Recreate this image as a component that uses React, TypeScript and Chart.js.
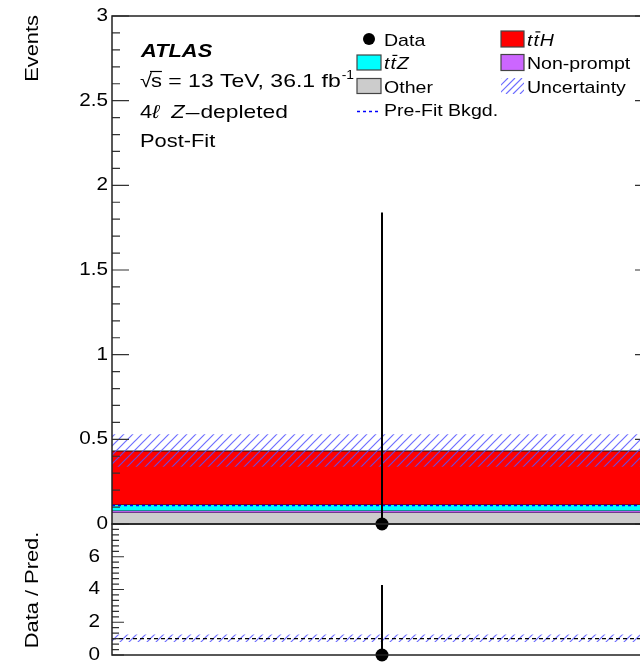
import React, { useEffect, useRef } from 'react';
import { Chart, registerables } from 'chart.js';

Chart.register(...registerables);

// ---------------- data ----------------
const binEdges = [0, 1];
const otherYields = [0.068];
const nonPromptYields = [0.011];
const ttZYields = [0.036];
const ttHYields = [0.316];
const uncDown = [0.338];
const uncUp = [0.53];
const preFitBkgd = [0.109];
const dataCenters = [0.5];
const dataValues = [0];
const dataErrHigh = [1.84];
const ratioValues = [0];
const ratioErrHigh = [4.27];
const ratioUncDown = [0.8];
const ratioUncUp = [1.25];
const ratioRef = [1];
const eventMajorTicks = [0, 0.5, 1, 1.5, 2, 2.5, 3];
const eventMinorStep = 0.1;
const ratioMajorTicks = [0, 2, 4, 6, 8];
const ratioLabelTicks = [0, 2, 4, 6];
const ratioMinorStep = 1 / 3;

// ---------------- helpers ----------------
const FONT = '"Liberation Sans", Arial, Helvetica, sans-serif';
const SX = 1.15;

type Pt = { x: number; y: number };

function stepPoints(values: number[]): Pt[] {
  const pts: Pt[] = [];
  values.forEach((v, i) => {
    pts.push({ x: binEdges[i], y: v });
    pts.push({ x: binEdges[i + 1], y: v });
  });
  return pts;
}

function addArrays(...arrs: number[][]): number[] {
  return arrs[0].map((_, i) => arrs.reduce((s, a) => s + a[i], 0));
}

function errorBarPoints(xs: number[], ys: number[], hi: number[]): Pt[] {
  const pts: Pt[] = [];
  xs.forEach((x, i) => {
    pts.push({ x, y: ys[i] });
    pts.push({ x, y: ys[i] + hi[i] });
  });
  return pts;
}

function makeHatch(): CanvasPattern | string {
  const c = document.createElement('canvas');
  const s = 9;
  c.width = s;
  c.height = s;
  const g = c.getContext('2d');
  if (!g) return 'rgba(80,80,255,0.5)';
  g.strokeStyle = 'rgba(85,85,255,0.85)';
  g.lineWidth = 1.2;
  g.beginPath();
  g.moveTo(-1, s + 1);
  g.lineTo(s + 1, -1);
  g.moveTo(-1, 1);
  g.lineTo(1, -1);
  g.moveTo(s - 1, s + 1);
  g.lineTo(s + 1, s - 1);
  g.stroke();
  const p = g.createPattern(c, 'repeat');
  return p || 'rgba(80,80,255,0.5)';
}

function drawText(
  ctx: CanvasRenderingContext2D,
  s: string,
  x: number,
  y: number,
  size: number,
  opt: { weight?: string; style?: string; align?: string; color?: string; baseline?: CanvasTextBaseline; sx?: number } = {}
): number {
  const { weight = 'normal', style = 'normal', align = 'left', color = '#000', baseline = 'alphabetic', sx = SX } = opt;
  ctx.save();
  ctx.font = `${style} ${weight} ${size}px ${FONT}`;
  ctx.fillStyle = color;
  ctx.textBaseline = baseline;
  ctx.textAlign = 'left';
  const w = ctx.measureText(s).width * sx;
  const x0 = align === 'right' ? x - w : align === 'center' ? x - w / 2 : x;
  ctx.translate(x0, y);
  ctx.scale(sx, 1);
  ctx.fillText(s, 0, 0);
  ctx.restore();
  return w;
}

function drawRotated(ctx: CanvasRenderingContext2D, s: string, cx: number, y: number, size: number, align: CanvasTextAlign) {
  ctx.save();
  ctx.font = `normal normal ${size}px ${FONT}`;
  ctx.fillStyle = '#000';
  ctx.translate(cx, y);
  ctx.rotate(-Math.PI / 2);
  ctx.scale(SX, 1);
  ctx.textAlign = align;
  ctx.textBaseline = 'middle';
  ctx.fillText(s, 0, 0);
  ctx.restore();
}

function drawFrame(
  chart: any,
  majors: number[],
  minorStep: number,
  majorLen: number,
  minorLen: number,
  labels: number[],
  labelRight: number,
  labelSize: number
) {
  const { ctx, chartArea } = chart;
  const y = chart.scales.y;
  const { left, right, top, bottom } = chartArea;
  ctx.save();
  ctx.strokeStyle = '#333';
  ctx.lineWidth = 1.2;
  ctx.beginPath();
  const n = Math.round((y.max - y.min) / minorStep);
  for (let i = 0; i <= n; i++) {
    const v = y.min + i * minorStep;
    const py = y.getPixelForValue(v);
    const isMajor = majors.some((m) => Math.abs(m - v) < 1e-6);
    const len = isMajor ? majorLen : minorLen;
    ctx.moveTo(left, py);
    ctx.lineTo(left + len, py);
    ctx.moveTo(right, py);
    ctx.lineTo(right - len, py);
  }
  ctx.stroke();
  ctx.strokeStyle = '#222';
  ctx.lineWidth = 1.5;
  ctx.strokeRect(left, top, right - left, bottom - top);
  ctx.restore();
  labels.forEach((v) => {
    const py = y.getPixelForValue(v);
    drawText(ctx, String(v), labelRight, py, labelSize, { align: 'right', baseline: 'middle' });
  });
}

function drawTT(ctx: CanvasRenderingContext2D, x: number, y: number, size: number, last: string) {
  const w1 = drawText(ctx, 't', x, y, size, { style: 'italic' });
  const w2 = drawText(ctx, 't', x + w1 + 1, y, size, { style: 'italic' });
  ctx.save();
  ctx.strokeStyle = '#000';
  ctx.lineWidth = 1.2;
  ctx.beginPath();
  ctx.moveTo(x + w1 + 3, y - size * 0.8);
  ctx.lineTo(x + w1 + w2 + 2.5, y - size * 0.8);
  ctx.stroke();
  ctx.restore();
  drawText(ctx, last, x + w1 + w2 + 2, y, size, { style: 'italic' });
}

function box(ctx: CanvasRenderingContext2D, x: number, y: number, w: number, h: number, fill: string) {
  ctx.save();
  ctx.fillStyle = fill;
  ctx.fillRect(x, y, w, h);
  ctx.strokeStyle = '#444';
  ctx.lineWidth = 1.2;
  ctx.strokeRect(x, y, w, h);
  ctx.restore();
}

const COLORS = {
  other: '#cccccc',
  nonPrompt: '#cc66ff',
  ttZ: '#00ffff',
  ttH: '#ff0000',
  prefit: '#0000ff',
};

// ---------------- component ----------------
export default function App() {
  const topRef = useRef<HTMLCanvasElement | null>(null);
  const botRef = useRef<HTMLCanvasElement | null>(null);

  useEffect(() => {
    if (!topRef.current || !botRef.current) return;
    const hatch = makeHatch();

    const cumOther = otherYields;
    const cumNP = addArrays(otherYields, nonPromptYields);
    const cumTTZ = addArrays(otherYields, nonPromptYields, ttZYields);
    const cumTTH = addArrays(otherYields, nonPromptYields, ttZYields, ttHYields);

    const line = (data: Pt[], extra: any) => ({
      type: 'line',
      data,
      pointRadius: 0,
      tension: 0,
      borderWidth: 1,
      borderColor: '#111',
      fill: false,
      ...extra,
    });

    const annotPlugin = {
      id: 'atlasTop',
      afterDraw(chart: any) {
        const ctx: CanvasRenderingContext2D = chart.ctx;
        drawFrame(chart, eventMajorTicks, eventMinorStep, 17, 8, eventMajorTicks, 108, 18);
        drawRotated(ctx, 'Events', 33, 15, 19, 'right');

        // ATLAS label block
        drawText(ctx, 'ATLAS', 141, 57, 19, { weight: 'bold', style: 'italic' });
        let x = 140;
        const y2 = 87;
        const wr = drawText(ctx, '\u221A', x, y2, 19);
        x += wr - 1;
        const ws = drawText(ctx, 's', x, y2, 19);
        ctx.save();
        ctx.strokeStyle = '#000';
        ctx.lineWidth = 1.2;
        ctx.beginPath();
        ctx.moveTo(x - 1, y2 - 15.5);
        ctx.lineTo(x + ws, y2 - 15.5);
        ctx.stroke();
        ctx.restore();
        x += ws;
        x += drawText(ctx, ' = 13 TeV, 36.1 fb', x, y2, 19, { sx: 1.21 });
        drawText(ctx, '-1', x + 1, y2 - 8, 12);

        let x3 = 140;
        const y3 = 118;
        x3 += drawText(ctx, '4', x3, y3, 19);
        x3 += drawText(ctx, '\u2113', x3, y3, 19, { style: 'italic' });
        x3 += drawText(ctx, '  ', x3, y3, 19);
        x3 += drawText(ctx, 'Z', x3, y3, 19, { style: 'italic' });
        x3 += 1;
        const wd = drawText(ctx, '\u2013', x3, y3, 19, { sx: 1.3 });
        drawText(ctx, 'depleted', x3 + wd + 1, y3, 19, { sx: 1.2 });
        drawText(ctx, 'Post-Fit', 140, 147, 19);

        // legend
        const rows = [39, 62.5, 86, 109.5];
        const bl = (r: number) => rows[r] + 6.5;
        ctx.save();
        ctx.fillStyle = '#000';
        ctx.beginPath();
        ctx.arc(369, rows[0], 6, 0, Math.PI * 2);
        ctx.fill();
        ctx.restore();
        drawText(ctx, 'Data', 384, bl(0), 17);
        box(ctx, 357, rows[1] - 7.5, 24, 15, COLORS.ttZ);
        drawTT(ctx, 384, bl(1), 17, 'Z');
        box(ctx, 357, rows[2] - 7.5, 24, 15, COLORS.other);
        drawText(ctx, 'Other', 384, bl(2), 17);
        ctx.save();
        ctx.strokeStyle = COLORS.prefit;
        ctx.lineWidth = 1.5;
        ctx.setLineDash([3, 3]);
        ctx.beginPath();
        ctx.moveTo(357, rows[3] + 2);
        ctx.lineTo(380, rows[3] + 2);
        ctx.stroke();
        ctx.restore();
        drawText(ctx, 'Pre-Fit Bkgd.', 384, bl(3), 17);

        box(ctx, 501, rows[0] - 8, 23, 16, COLORS.ttH);
        drawTT(ctx, 527, bl(0), 17, 'H');
        box(ctx, 501, rows[1] - 8, 23, 16, COLORS.nonPrompt);
        drawText(ctx, 'Non-prompt', 527, bl(1), 17);
        ctx.save();
        ctx.beginPath();
        ctx.rect(501, rows[2] - 8, 23, 16);
        ctx.clip();
        ctx.strokeStyle = 'rgba(85,85,255,0.85)';
        ctx.lineWidth = 1.2;
        ctx.beginPath();
        for (let k = -30; k < 30; k += 7) {
          ctx.moveTo(501 + k, rows[2] + 8);
          ctx.lineTo(501 + k + 16, rows[2] - 8);
        }
        ctx.stroke();
        ctx.restore();
        drawText(ctx, 'Uncertainty', 527, bl(2), 17);
      },
    };

    const topChart = new Chart(topRef.current, {
      type: 'line',
      data: {
        datasets: [
          line(stepPoints(cumOther), { fill: 'origin', backgroundColor: COLORS.other, order: 8 }),
          line(stepPoints(cumNP), { fill: '-1', backgroundColor: COLORS.nonPrompt, order: 7 }),
          line(stepPoints(cumTTZ), { fill: '-1', backgroundColor: COLORS.ttZ, order: 6 }),
          line(stepPoints(cumTTH), { fill: '-1', backgroundColor: COLORS.ttH, order: 5 }),
          line(stepPoints(uncDown), { borderWidth: 0, borderColor: 'rgba(0,0,0,0)', order: 4 }),
          line(stepPoints(uncUp), { fill: '-1', backgroundColor: hatch, borderWidth: 0, borderColor: 'rgba(0,0,0,0)', order: 3 }),
          line(stepPoints(preFitBkgd), { borderColor: COLORS.prefit, borderWidth: 1.5, borderDash: [3, 3], order: 2 }),
          line(errorBarPoints(dataCenters, dataValues, dataErrHigh), { borderColor: '#000', borderWidth: 2, order: 1, clip: false }),
          line(
            dataCenters.map((x, i) => ({ x, y: dataValues[i] })),
            { showLine: false, pointRadius: 6.5, pointBackgroundColor: '#000', pointBorderColor: '#000', borderWidth: 0, order: 0, clip: false }
          ),
        ] as any,
      },
      options: {
        responsive: false,
        animation: false,
        devicePixelRatio: 1,
        layout: { padding: { left: 112, top: 16, right: 10, bottom: 16 } },
        plugins: { legend: { display: false }, tooltip: { enabled: false } },
        scales: {
          x: { type: 'linear', min: binEdges[0], max: binEdges[binEdges.length - 1], display: false },
          y: { type: 'linear', min: 0, max: 3, display: false },
        },
        events: [],
      } as any,
      plugins: [annotPlugin],
    });

    const ratioPlugin = {
      id: 'atlasRatio',
      afterDraw(chart: any) {
        drawFrame(chart, ratioMajorTicks, ratioMinorStep, 12, 7, ratioLabelTicks, 100, 18);
        drawRotated(chart.ctx, 'Data / Pred.', 33, 590 - 510, 19, 'center');
      },
    };

    const botChart = new Chart(botRef.current, {
      type: 'line',
      data: {
        datasets: [
          line(stepPoints(ratioUncDown), { borderWidth: 0, borderColor: 'rgba(0,0,0,0)', order: 4 }),
          line(stepPoints(ratioUncUp), { fill: '-1', backgroundColor: hatch, borderWidth: 0, borderColor: 'rgba(0,0,0,0)', order: 3 }),
          line(stepPoints(ratioRef), { borderColor: '#000', borderWidth: 1.2, borderDash: [4, 3], order: 2 }),
          line(errorBarPoints(dataCenters, ratioValues, ratioErrHigh), { borderColor: '#000', borderWidth: 2, order: 1, clip: false }),
          line(
            dataCenters.map((x, i) => ({ x, y: ratioValues[i] })),
            { showLine: false, pointRadius: 6.5, pointBackgroundColor: '#000', pointBorderColor: '#000', borderWidth: 0, order: 0, clip: false }
          ),
        ] as any,
      },
      options: {
        responsive: false,
        animation: false,
        devicePixelRatio: 1,
        layout: { padding: { left: 112, top: 14, right: 10, bottom: 25 } },
        plugins: { legend: { display: false }, tooltip: { enabled: false } },
        scales: {
          x: { type: 'linear', min: binEdges[0], max: binEdges[binEdges.length - 1], display: false },
          y: { type: 'linear', min: 0, max: 8, display: false },
        },
        events: [],
      } as any,
      plugins: [ratioPlugin],
    });

    return () => {
      topChart.destroy();
      botChart.destroy();
    };
  }, []);

  return (
    <div
      style={{
        position: 'fixed',
        left: 0,
        top: 0,
        width: 640,
        height: 663,
        overflow: 'hidden',
        background: '#fff',
      }}
    >
      <canvas
        ref={topRef}
        width={662}
        height={540}
        style={{ position: 'absolute', left: 0, top: 0, width: 662, height: 540 }}
      />
      <canvas
        ref={botRef}
        width={662}
        height={170}
        style={{ position: 'absolute', left: 0, top: 510, width: 662, height: 170 }}
      />
    </div>
  );
}
